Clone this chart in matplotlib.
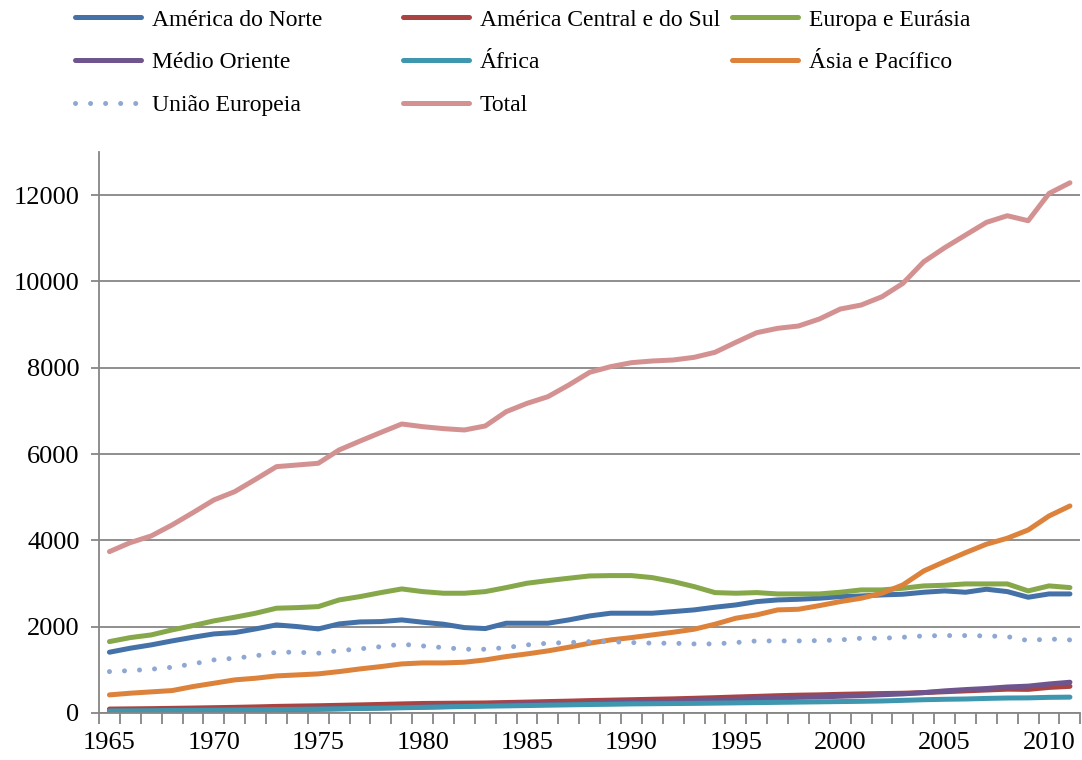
import matplotlib
matplotlib.use("Agg")
import matplotlib.pyplot as plt
import numpy as np

# years 1965-2011
years = list(range(1965, 2012))

america_norte = [1406, 1499, 1576, 1668, 1753, 1830, 1861, 1946, 2039, 2000,
                 1946, 2062, 2108, 2116, 2155, 2101, 2055, 1977, 1954, 2078,
                 2078, 2078, 2155, 2247, 2310, 2310, 2310, 2348, 2387, 2449,
                 2502, 2579, 2618, 2633, 2657, 2695, 2710, 2734, 2750, 2796,
                 2827, 2796, 2866, 2811, 2680, 2757, 2757]
america_central = [88, 93, 98, 105, 112, 120, 128, 138, 150, 158,
                   165, 175, 185, 196, 208, 218, 222, 226, 230, 240,
                   250, 262, 272, 285, 295, 305, 315, 325, 338, 352,
                   368, 382, 398, 410, 418, 430, 440, 448, 455, 470,
                   490, 510, 530, 550, 545, 590, 615]
europa_eurasia = [1652, 1745, 1807, 1923, 2023, 2132, 2217, 2310, 2426, 2440,
                  2463, 2618, 2695, 2788, 2873, 2811, 2773, 2773, 2811, 2904,
                  3005, 3066, 3121, 3174, 3182, 3182, 3135, 3043, 2927, 2788,
                  2773, 2788, 2757, 2757, 2757, 2796, 2850, 2850, 2889, 2943,
                  2958, 2989, 2989, 2989, 2827, 2943, 2904]
medio_oriente = [25, 30, 35, 40, 45, 50, 58, 65, 75, 80,
                 85, 95, 105, 115, 125, 135, 145, 155, 170, 185,
                 195, 205, 215, 225, 235, 245, 255, 270, 285, 300,
                 315, 330, 345, 360, 370, 385, 400, 420, 440, 470,
                 510, 540, 565, 600, 620, 670, 710]
africa = [45, 48, 50, 55, 58, 62, 67, 72, 78, 82,
          88, 95, 102, 110, 118, 128, 138, 148, 155, 162,
          170, 178, 186, 194, 200, 208, 212, 216, 220, 226,
          232, 238, 244, 250, 256, 262, 268, 276, 290, 305,
          315, 322, 335, 345, 348, 360, 365]
asia_pacifico = [417, 456, 487, 517, 610, 687, 765, 803, 857, 880,
                 904, 957, 1019, 1073, 1135, 1158, 1158, 1174, 1228, 1305,
                 1367, 1437, 1522, 1615, 1691, 1745, 1807, 1869, 1939, 2055,
                 2194, 2271, 2387, 2402, 2486, 2579, 2657, 2773, 2966, 3290,
                 3506, 3714, 3909, 4048, 4240, 4564, 4796]
uniao_europeia = [957, 980, 1012, 1058, 1135, 1228, 1267, 1321, 1406, 1406,
                  1383, 1444, 1483, 1536, 1591, 1552, 1513, 1475, 1475, 1513,
                  1576, 1615, 1630, 1652, 1652, 1630, 1615, 1615, 1599, 1599,
                  1630, 1668, 1668, 1668, 1676, 1691, 1730, 1730, 1753, 1784,
                  1792, 1792, 1784, 1768, 1676, 1714, 1691]
total = [3738, 3946, 4101, 4356, 4641, 4935, 5128, 5414, 5707, 5746,
         5785, 6094, 6300, 6500, 6696, 6634, 6588, 6557, 6650, 6981,
         7174, 7329, 7600, 7894, 8024, 8117, 8156, 8179, 8241, 8357,
         8589, 8812, 8913, 8967, 9129, 9360, 9453, 9646, 9955, 10457,
         10781, 11075, 11369, 11523, 11407, 12040, 12287]

plt.rcParams['font.family'] = ['Liberation Serif', 'DejaVu Serif']

fig = plt.figure(figsize=(10.82, 7.6), dpi=100)
ax = fig.add_axes([0.0915, 0.062, 0.907, 0.738])

lw = 3.6
series = [
    ("América do Norte", america_norte, "#4472A8", "-"),
    ("América Central e do Sul", america_central, "#A94442", "-"),
    ("Europa e Eurásia", europa_eurasia, "#86A84A", "-"),
    ("Médio Oriente", medio_oriente, "#6E558E", "-"),
    ("África", africa, "#3E97AE", "-"),
    ("Ásia e Pacífico", asia_pacifico, "#DD823A", "-"),
    ("União Europeia", uniao_europeia, "#8FA8D3", (0, (0.01, 3.0))),
    ("Total", total, "#D39291", "-"),
]

handles = {}
for name, vals, col, ls in series:
    line, = ax.plot(years, vals, color=col, lw=lw, linestyle=ls,
                    solid_capstyle='round', dash_capstyle='round',
                    solid_joinstyle='round', label=name)
    handles[name] = line

# Excel legend: fixed columns, filled row by row -> one legend per column
columns = [
    (["América do Norte", "Médio Oriente", "União Europeia"], 75),
    (["América Central e do Sul", "África", "Total"], 403),
    (["Europa e Eurásia", "Ásia e Pacífico"], 732),
]
for names, xpix in columns:
    leg = fig.legend([handles[n] for n in names], names, loc='upper left',
                     bbox_to_anchor=(xpix / 1082, 1 - 9 / 760), frameon=False,
                     fontsize=17, handlelength=2.8, handletextpad=0.45,
                     labelspacing=0.9, borderpad=0, borderaxespad=0)

ax.set_xlim(1964.5, 2011.5)
ax.set_ylim(0, 13000)
ax.set_yticks(range(0, 13000, 2000))
ax.set_xticks(range(1965, 2011, 5))
ax.set_xticks(np.arange(1964.5, 2012, 1.0), minor=True)

grid_col = "#868686"
ax.yaxis.grid(True, color=grid_col, lw=1.3)
ax.set_axisbelow(True)
for s in ['top', 'right']:
    ax.spines[s].set_visible(False)
for s in ['left', 'bottom']:
    ax.spines[s].set_color(grid_col)
    ax.spines[s].set_linewidth(1.3)

ax.tick_params(axis='y', which='major', length=6, width=1.3, color=grid_col,
               labelsize=19, pad=8)
ax.tick_params(axis='x', which='major', length=0, labelsize=19, pad=14)
ax.tick_params(axis='x', which='minor', length=8, width=1.3, color=grid_col)

fig.savefig("out.png", dpi=100)
